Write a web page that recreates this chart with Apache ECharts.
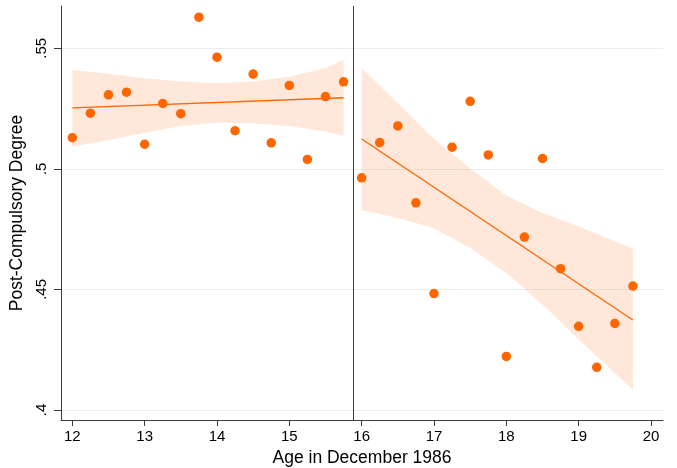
<!DOCTYPE html>
<html lang="en">

<head>
  <meta charset="UTF-8">
  <title>Post-Compulsory Degree by Age</title>
  <script src="https://cdn.jsdelivr.net/npm/echarts@6.0.0/dist/echarts.min.js"></script>
  <style>
    html,
    body {
      margin: 0;
      padding: 0;
      background-color: #fff;
    }

    #chart {
      width: 677px;
      height: 468px;
    }
  </style>
</head>

<body>
  <div id="chart"></div>
  <script>
    // binned means
    const leftAge = [12, 12.25, 12.5, 12.75, 13, 13.25, 13.5, 13.75, 14, 14.25, 14.5, 14.75, 15, 15.25, 15.5, 15.75];
    const leftShare = [0.5129, 0.5231, 0.5307, 0.5318, 0.5102, 0.5271, 0.5229, 0.5629, 0.5463, 0.5158, 0.5393, 0.5108, 0.5346, 0.5039, 0.5300, 0.5361];
    const rightAge = [16, 16.25, 16.5, 16.75, 17, 17.25, 17.5, 17.75, 18, 18.25, 18.5, 18.75, 19, 19.25, 19.5, 19.75];
    const rightShare = [0.4963, 0.5109, 0.5178, 0.4859, 0.4483, 0.5090, 0.5280, 0.5058, 0.4222, 0.4717, 0.5043, 0.4586, 0.4347, 0.4177, 0.4359, 0.4514];

    // fitted lines
    const leftFitAge = [12, 15.75];
    const leftFit = [0.5253, 0.5295];
    const rightFitAge = [16, 19.75];
    const rightFit = [0.5124, 0.4373];

    // confidence bands
    const leftBandAge = [12, 12.5, 13, 13.5, 14, 14.5, 15, 15.5, 15.75];
    const leftBandHi = [0.5410, 0.5394, 0.5376, 0.5362, 0.5355, 0.5362, 0.5382, 0.5417, 0.5452];
    const leftBandLo = [0.5092, 0.5120, 0.5150, 0.5178, 0.5192, 0.5189, 0.5178, 0.5155, 0.5137];
    const rightBandAge = [16, 16.5, 17, 17.5, 18, 18.5, 19, 19.5, 19.75];
    const rightBandHi = [0.5418, 0.5272, 0.5124, 0.5002, 0.4888, 0.4817, 0.4761, 0.4700, 0.4669];
    const rightBandLo = [0.4829, 0.4796, 0.4754, 0.4672, 0.4568, 0.4437, 0.4292, 0.4152, 0.4085];

    const cutoff = 15.875;
    const xTicks = [12, 13, 14, 15, 16, 17, 18, 19, 20];
    const yTicks = [0.4, 0.45, 0.5, 0.55];

    const orange = '#ff6600';
    const axisColor = '#3c3c3c';
    const font = 'Liberation Sans, Arial, sans-serif';

    function zip(xs, ys) {
      return xs.map((x, i) => [x, ys[i]]);
    }

    function bandSeries(xs, hi, lo) {
      return {
        type: 'custom',
        silent: true,
        z: 1,
        data: [0],
        renderItem: function (params, api) {
          const pts = [];
          xs.forEach((x, i) => pts.push(api.coord([x, hi[i]])));
          for (let i = xs.length - 1; i >= 0; i--) pts.push(api.coord([xs[i], lo[i]]));
          return {
            type: 'polygon',
            shape: { points: pts },
            style: { fill: 'rgba(255,102,0,0.15)' }
          };
        }
      };
    }

    function fitSeries(xs, ys) {
      return {
        type: 'line',
        data: zip(xs, ys),
        symbol: 'none',
        z: 2,
        lineStyle: { color: orange, width: 1.3 }
      };
    }

    function dotSeries(xs, ys) {
      return {
        type: 'scatter',
        data: zip(xs, ys),
        symbolSize: 9.5,
        z: 4,
        itemStyle: { color: orange, opacity: 1 }
      };
    }

    const chart = echarts.init(document.getElementById('chart'));
    chart.setOption({
      animation: false,
      grid: { left: 61, right: 14, top: 6, bottom: 48, containLabel: false, outerBoundsMode: 'none' },
      xAxis: {
        type: 'value',
        min: 11.8438,
        max: 20.166,
        name: 'Age in December 1986',
        nameLocation: 'middle',
        nameGap: 23,
        nameTextStyle: { fontFamily: font, fontSize: 17.5, color: '#000' },
        axisLine: { show: true, onZero: false, lineStyle: { color: axisColor, width: 1 } },
        axisTick: { show: true, length: 6, customValues: xTicks, lineStyle: { color: axisColor } },
        axisLabel: { customValues: xTicks, margin: 9, fontFamily: font, fontSize: 15, color: '#000' },
        splitLine: { show: false }
      },
      yAxis: {
        type: 'value',
        min: 0.39585,
        max: 0.56754,
        name: 'Post-Compulsory Degree',
        nameLocation: 'middle',
        nameGap: 28,
        nameRotate: 90,
        nameTextStyle: { fontFamily: font, fontSize: 17.5, color: '#000' },
        axisLine: { show: true, onZero: false, lineStyle: { color: axisColor, width: 1 } },
        axisTick: { show: true, length: 7, customValues: yTicks, lineStyle: { color: axisColor } },
        axisLabel: {
          customValues: yTicks,
          rotate: 90,
          margin: 12,
          fontFamily: font,
          fontSize: 15,
          color: '#000',
          formatter: v => String(+v.toFixed(2)).replace(/^0/, '')
        },
        splitLine: { show: true, lineStyle: { color: '#e6efef', width: 1 } }
      },
      series: [
        bandSeries(leftBandAge, leftBandHi, leftBandLo),
        bandSeries(rightBandAge, rightBandHi, rightBandLo),
        fitSeries(leftFitAge, leftFit),
        fitSeries(rightFitAge, rightFit),
        dotSeries(leftAge, leftShare),
        Object.assign(dotSeries(rightAge, rightShare), {
          markLine: {
            silent: true,
            symbol: 'none',
            label: { show: false },
            lineStyle: { color: axisColor, width: 1, type: 'solid' },
            data: [{ xAxis: cutoff }]
          }
        })
      ]
    });
  </script>
</body>

</html>
